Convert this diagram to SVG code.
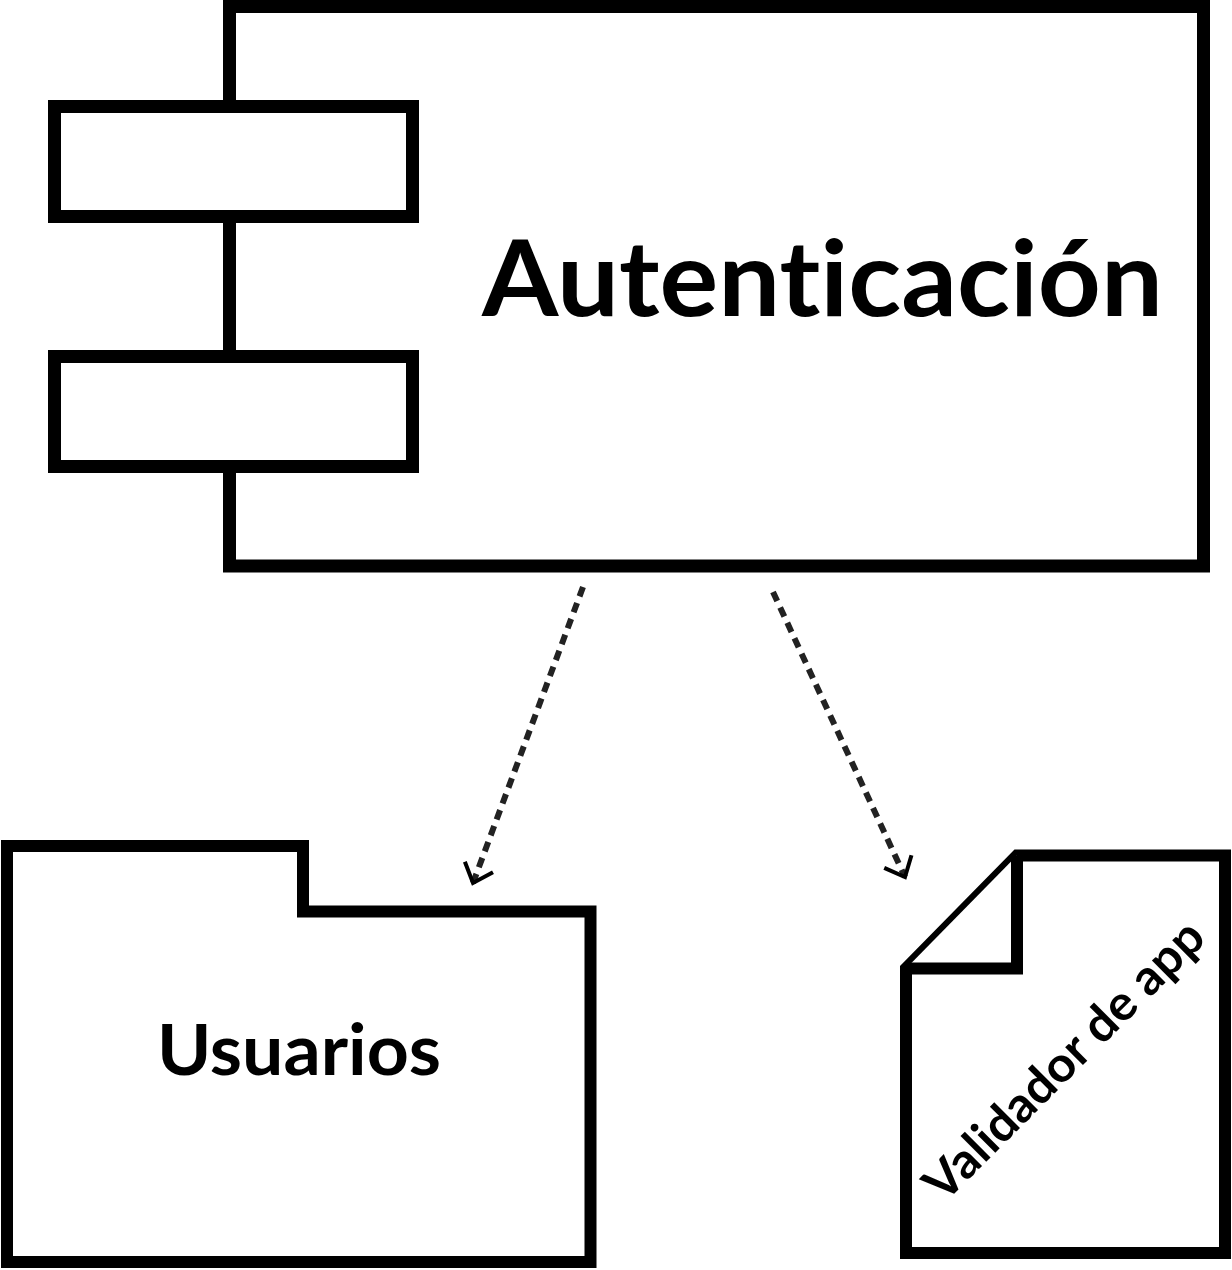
<svg xmlns="http://www.w3.org/2000/svg" width="1232" height="1270" viewBox="0 0 1232 1270">
  <style>
    .shape { fill: #ffffff; stroke: #000000; stroke-linejoin: miter; }
    .edge { fill: none; stroke: #222222; stroke-width: 6; stroke-dasharray: 10 7; }
    .label { font-family: Lato, "Liberation Sans", sans-serif; font-weight: 700; fill: #000000; font-variant-ligatures: none; font-feature-settings: "liga" 0; }
  </style>
  <defs>
    <marker id="openArrow" markerUnits="userSpaceOnUse" viewBox="-22 -20 26 40" markerWidth="26" markerHeight="40" refX="0" refY="0" orient="auto">
      <path d="M -17 -15 L 0 0 L -17 15" fill="none" stroke="#000000" stroke-width="4"/>
    </marker>
  </defs>
  <rect width="1232" height="1270" fill="#ffffff"/>

  <g id="autenticacion">
    <rect class="shape" x="229.5" y="6.5" width="974" height="559.5" stroke-width="13"/>
    <rect class="shape" x="54.5" y="106.5" width="358" height="110" stroke-width="13"/>
    <rect class="shape" x="54.5" y="356.5" width="358" height="110" stroke-width="13"/>
    <text class="label" x="482" y="316" font-size="106" textLength="681" lengthAdjust="spacingAndGlyphs">Autenticación</text>
  </g>

  <g id="usuarios">
    <path class="shape" d="M7 846 H303 V911.5 H590.5 V1262 H7 Z" stroke-width="12"/>
    <text class="label" x="157" y="1075" font-size="70" textLength="284" lengthAdjust="spacingAndGlyphs">Usuarios</text>
  </g>

  <g id="validador">
    <path class="shape" d="M1017 855.5 H1225 V1253 H906 V968.5 Z" stroke-width="12"/>
    <path class="shape" d="M906 968.5 H1017 V855.5" fill="none" stroke-width="12"/>
    <text class="label" x="1076" y="1072" font-size="49" text-anchor="middle" textLength="373" lengthAdjust="spacingAndGlyphs" transform="rotate(-45 1076 1072)">Validador de app</text>
  </g>

  <g id="connectors">
    <path class="edge" d="M583 587 L473 883" marker-end="url(#openArrow)"/>
    <path class="edge" d="M773 592 L905 877" marker-end="url(#openArrow)"/>
  </g>
</svg>
